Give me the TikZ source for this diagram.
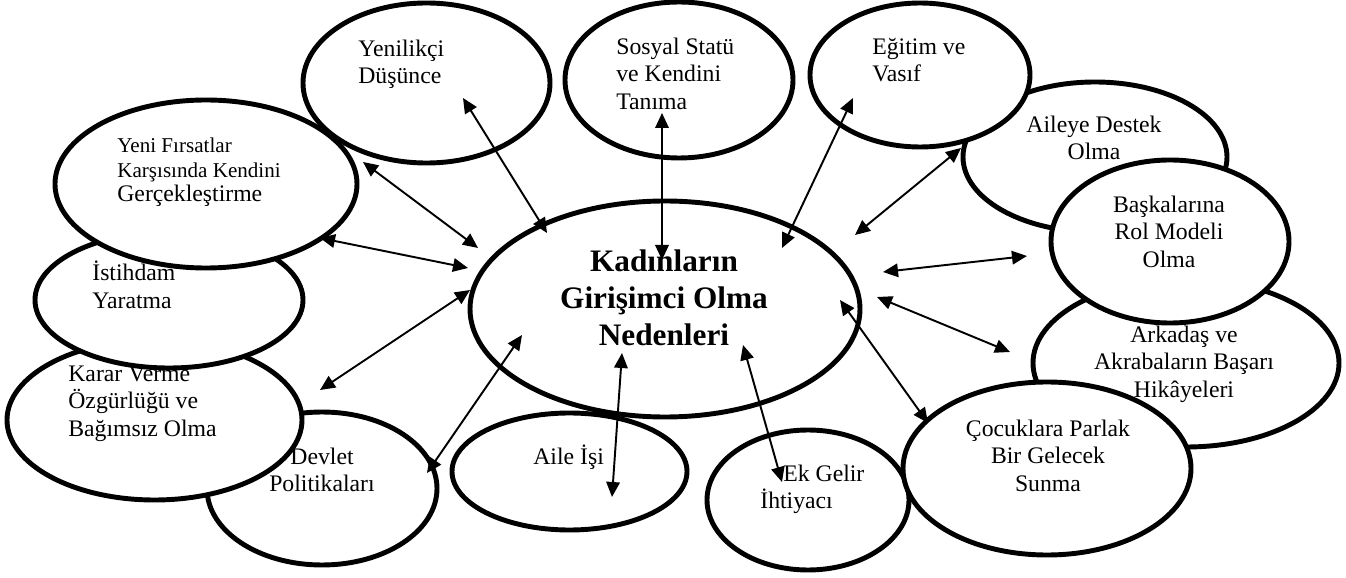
\documentclass[tikz,border=0pt]{standalone}
\usepackage{fontspec}
\setmainfont{Liberation Serif}
\usetikzlibrary{shapes.geometric,arrows.meta}

\tikzset{
  reason/.style={draw, ellipse, line width=2.8pt, fill=white, inner sep=0pt},
  lbl/.style={inner sep=0pt, yshift=-0.04cm, font=\fontsize{13.5}{15.7}\selectfont, execute at begin node=\strut},
  smalllbl/.style={inner sep=0pt, yshift=-0.04cm, font=\fontsize{12}{13.7}\selectfont, execute at begin node=\strut},
  title/.style={inner sep=0pt, align=center, anchor=north, font=\bfseries\fontsize{17.8}{21.3}\selectfont, execute at begin node=\strut},
  twoway/.style={{Triangle[length=0.3cm,width=0.27cm]}-{Triangle[length=0.3cm,width=0.27cm]}, line width=1.1pt}
}

\begin{document}
\begin{tikzpicture}
    \useasboundingbox (0,0) rectangle (26.92,11.54);
    % left side, back to front
    \node [reason, minimum width=4.60cm, minimum height=3.06cm] (devlet) at (6.44,1.77) {};
    \node [lbl, align=center, anchor=north] (devlet-t) at (6.44,2.63) {Devlet\\Politikaları};
    \node [reason, minimum width=5.90cm, minimum height=3.20cm] (karar) at (3.09,3.14) {};
    \node [lbl, align=left, anchor=north west] (karar-t) at (1.36,4.27) {Karar Verme\\Özgürlüğü ve\\Bağımsız Olma};
    \node [reason, minimum width=5.36cm, minimum height=2.72cm] (istihdam) at (3.38,5.54) {};
    \node [lbl, align=left, anchor=north west] (istihdam-t) at (1.84,6.37) {İstihdam\\Yaratma};
    \node [reason, minimum width=6.04cm, minimum height=3.36cm] (firsat) at (4.12,7.86) {};
    \node [smalllbl, align=left, anchor=north west] (firsat-t) at (2.34,8.82) {Yeni Fırsatlar\\Karşısında Kendini\\{\fontsize{13.5}{15.7}\selectfont Gerçekleştirme}};
    % top row
    \node [reason, minimum width=4.94cm, minimum height=3.20cm] (yenilikci) at (8.53,9.88) {};
    \node [lbl, align=left, anchor=north west] (yenilikci-t) at (7.16,10.79) {Yenilikçi\\Düşünce};
    \node [reason, minimum width=4.56cm, minimum height=3.12cm] (sosyal) at (13.58,9.94) {};
    \node [lbl, align=left, anchor=north west] (sosyal-t) at (12.32,10.83) {Sosyal Statü\\ve Kendini\\Tanıma};
    % right side
    \node [reason, minimum width=5.28cm, minimum height=3.00cm] (aileye) at (21.90,8.40) {};
    \node [lbl, align=center, anchor=north] (aileye-t) at (21.88,9.27) {Aileye Destek\\Olma};
    \node [reason, minimum width=4.40cm, minimum height=2.88cm] (egitim) at (18.40,10.04) {};
    \node [lbl, align=left, anchor=north west] (egitim-t) at (17.44,10.83) {Eğitim ve\\Vasıf};
    \node [reason, minimum width=6.12cm, minimum height=3.36cm] (arkadas) at (23.72,4.28) {};
    \node [lbl, align=center, anchor=north] (arkadas-t) at (23.68,5.07) {Arkadaş ve\\Akrabaların Başarı\\Hikâyeleri};
    \node [reason, minimum width=4.76cm, minimum height=3.26cm] (rolmodel) at (23.40,6.71) {};
    \node [lbl, align=center, anchor=north] (rolmodel-t) at (23.38,7.67) {Başkalarına\\Rol Modeli\\Olma};
    % bottom row
    \node [reason, minimum width=4.04cm, minimum height=2.80cm] (ekgelir) at (16.16,1.54) {};
    \node [lbl, align=left, anchor=north west] (ekgelir-t) at (15.20,2.29) {\hspace*{0.46cm}Ek Gelir\\İhtiyacı};
    \node [reason, minimum width=5.76cm, minimum height=3.46cm] (cocuk) at (20.94,2.17) {};
    \node [lbl, align=center, anchor=north] (cocuk-t) at (20.96,3.19) {Çocuklara Parlak\\Bir Gelecek\\Sunma};
    \node [reason, minimum width=4.70cm, minimum height=2.34cm] (aileisi) at (11.39,2.11) {};
    \node [lbl, anchor=north west] (aileisi-t) at (10.66,2.69) {Aile İşi};
    % centre
    \node [reason, minimum width=7.80cm, minimum height=4.32cm] (kadin) at (13.30,5.36) {};
    \node [title] (kadin-t) at (13.28,6.56) {Kadınların\\Girişimci Olma\\Nedenleri};
    % arrows
    \draw [twoway] ([shift={(0.73,-0.30)}]yenilikci.center) -- ([shift={(-2.36,1.52)}]kadin.center);
    \draw [twoway] ([shift={(-0.34,-0.66)}]sosyal.center) -- ([shift={(-0.06,0.98)}]kadin.center);
    \draw [twoway] ([shift={(-1.34,-0.46)}]egitim.center) -- ([shift={(2.34,1.22)}]kadin.center);
    \draw [twoway] ([shift={(-2.68,0.18)}]aileye.center) -- ([shift={(3.80,1.48)}]kadin.center);
    \draw [twoway] ([shift={(-2.86,-0.29)}]rolmodel.center) -- ([shift={(4.36,0.74)}]kadin.center);
    \draw [twoway] ([shift={(-3.52,0.22)}]arkadas.center) -- ([shift={(4.24,0.24)}]kadin.center);
    \draw [twoway] ([shift={(-2.38,0.91)}]cocuk.center) -- ([shift={(3.50,0.18)}]kadin.center);
    \draw [twoway] ([shift={(-0.52,0.36)}]ekgelir.center) -- ([shift={(1.56,-0.72)}]kadin.center);
    \draw [twoway] ([shift={(0.85,-0.51)}]aileisi.center) -- ([shift={(-0.86,-0.88)}]kadin.center);
    \draw [twoway] ([shift={(2.10,0.31)}]devlet.center) -- ([shift={(-2.86,-0.52)}]kadin.center);
    \draw [twoway] ([shift={(3.31,0.60)}]karar.center) -- ([shift={(-3.90,0.38)}]kadin.center);
    \draw [twoway] ([shift={(3.02,1.24)}]istihdam.center) -- ([shift={(-3.94,0.82)}]kadin.center);
    \draw [twoway] ([shift={(3.14,0.44)}]firsat.center) -- ([shift={(-3.74,1.22)}]kadin.center);
\end{tikzpicture}
\end{document}
